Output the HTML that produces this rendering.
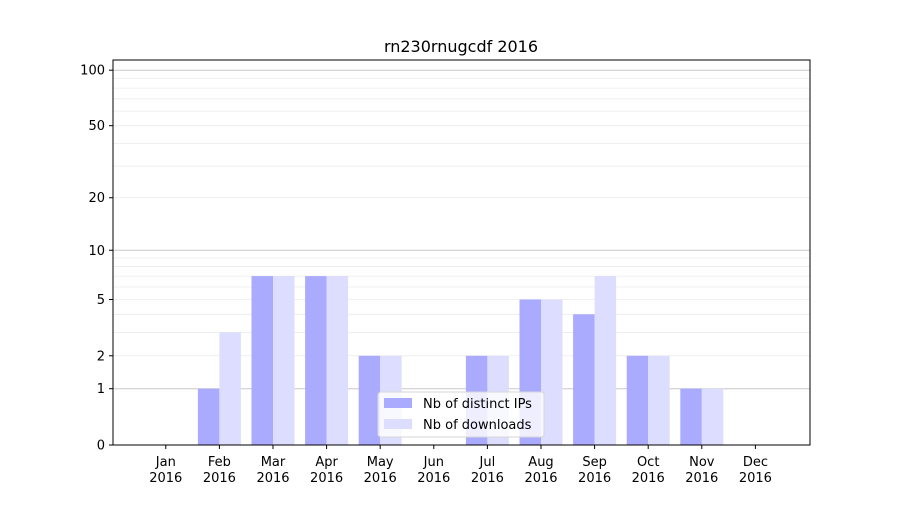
<!DOCTYPE html>
<html><head><meta charset="utf-8"><style>
body{margin:0;background:#fff;font-family:"Liberation Sans","DejaVu Sans",sans-serif;}
svg text{font-family:"DejaVu Sans","Liberation Sans",sans-serif;}
</style></head><body>
<svg id="chart" width="900" height="500" xmlns="http://www.w3.org/2000/svg">
<rect width="900" height="500" fill="#fff"/>
<text x="461" y="52" font-size="16" text-anchor="middle">rn230rnugcdf 2016</text>
<g id="grid"></g><g id="bars"></g><g id="axes"></g>
</svg>
<script>
const months=["Jan","Feb","Mar","Apr","May","Jun","Jul","Aug","Sep","Oct","Nov","Dec"];
const ips=[0,1,7,7,2,0,2,5,4,2,1,0];
const downloads=[0,3,7,7,2,0,2,5,7,2,1,0];
const yTicks=[0,1,2,5,10,20,50,100];
const yMinor=[3,4,6,7,8,9,30,40,60,70,80,90];
const L=113,R=810,T=60,B=445;
const NS="http://www.w3.org/2000/svg";
function y(v){return B-187*Math.log10(1+v);}
function xc(i){return L+(i+0.985)*53.6;}
function mk(t,a,p){const e=document.createElementNS(NS,t);for(const k in a)e.setAttribute(k,a[k]);p.appendChild(e);return e;}
const grid=document.getElementById('grid'),bars=document.getElementById('bars'),axes=document.getElementById('axes');
yMinor.forEach(v=>{const l=mk('line',{x1:L,x2:R,y1:y(v),y2:y(v),stroke:'#ebebeb','stroke-width':0.8},grid);

});
yTicks.forEach(v=>{const major=(v===1||v===10||v===100);const l=mk('line',{x1:L,x2:R,y1:y(v),y2:y(v),stroke:major?'#c8c8c8':'#ebebeb','stroke-width':major?1:0.8},grid);


const tk=mk('line',{x1:L-4,x2:L,y1:y(v),y2:y(v),stroke:'#000'},axes);


const t=mk('text',{x:L-8,y:y(v)+4.5,'font-size':13,'text-anchor':'end'},axes);t.textContent=v;

});
const w=21.5;
months.forEach((m,i)=>{const c=xc(i);
if(ips[i]>0){const r=mk('rect',{x:c-w,y:y(ips[i]),width:w,height:B-y(ips[i]),fill:'#aaaaff'},bars);

}
if(downloads[i]>0){const r=mk('rect',{x:c,y:y(downloads[i]),width:w,height:B-y(downloads[i]),fill:'#ddddff'},bars);

}
const tk=mk('line',{x1:c,x2:c,y1:B,y2:B+4,stroke:'#000'},axes);


const t=mk('text',{x:c,y:B+21,'font-size':13,'text-anchor':'middle'},axes);t.textContent=m;


const t2=mk('text',{x:c,y:B+37,'font-size':13,'text-anchor':'middle'},axes);t2.textContent='2016';

});
const fr=mk('rect',{x:L,y:T,width:R-L,height:B-T,fill:'none',stroke:'#000','stroke-width':1},axes);


const lg=mk('g',{},axes);


mk('rect',{x:378,y:392,width:166,height:45,rx:3,fill:'#fff','fill-opacity':0.8,stroke:'#d6d6d6'},lg);
const e1=mk('rect',{x:384,y:398,width:28,height:10,fill:'#aaaaff'},lg);


const t1=mk('text',{x:423,y:408,'font-size':13},lg);t1.textContent='Nb of distinct IPs';


const e2=mk('rect',{x:384,y:419,width:28,height:10,fill:'#ddddff'},lg);


const t3=mk('text',{x:423,y:429,'font-size':13},lg);t3.textContent='Nb of downloads';


</script>
</body></html>
